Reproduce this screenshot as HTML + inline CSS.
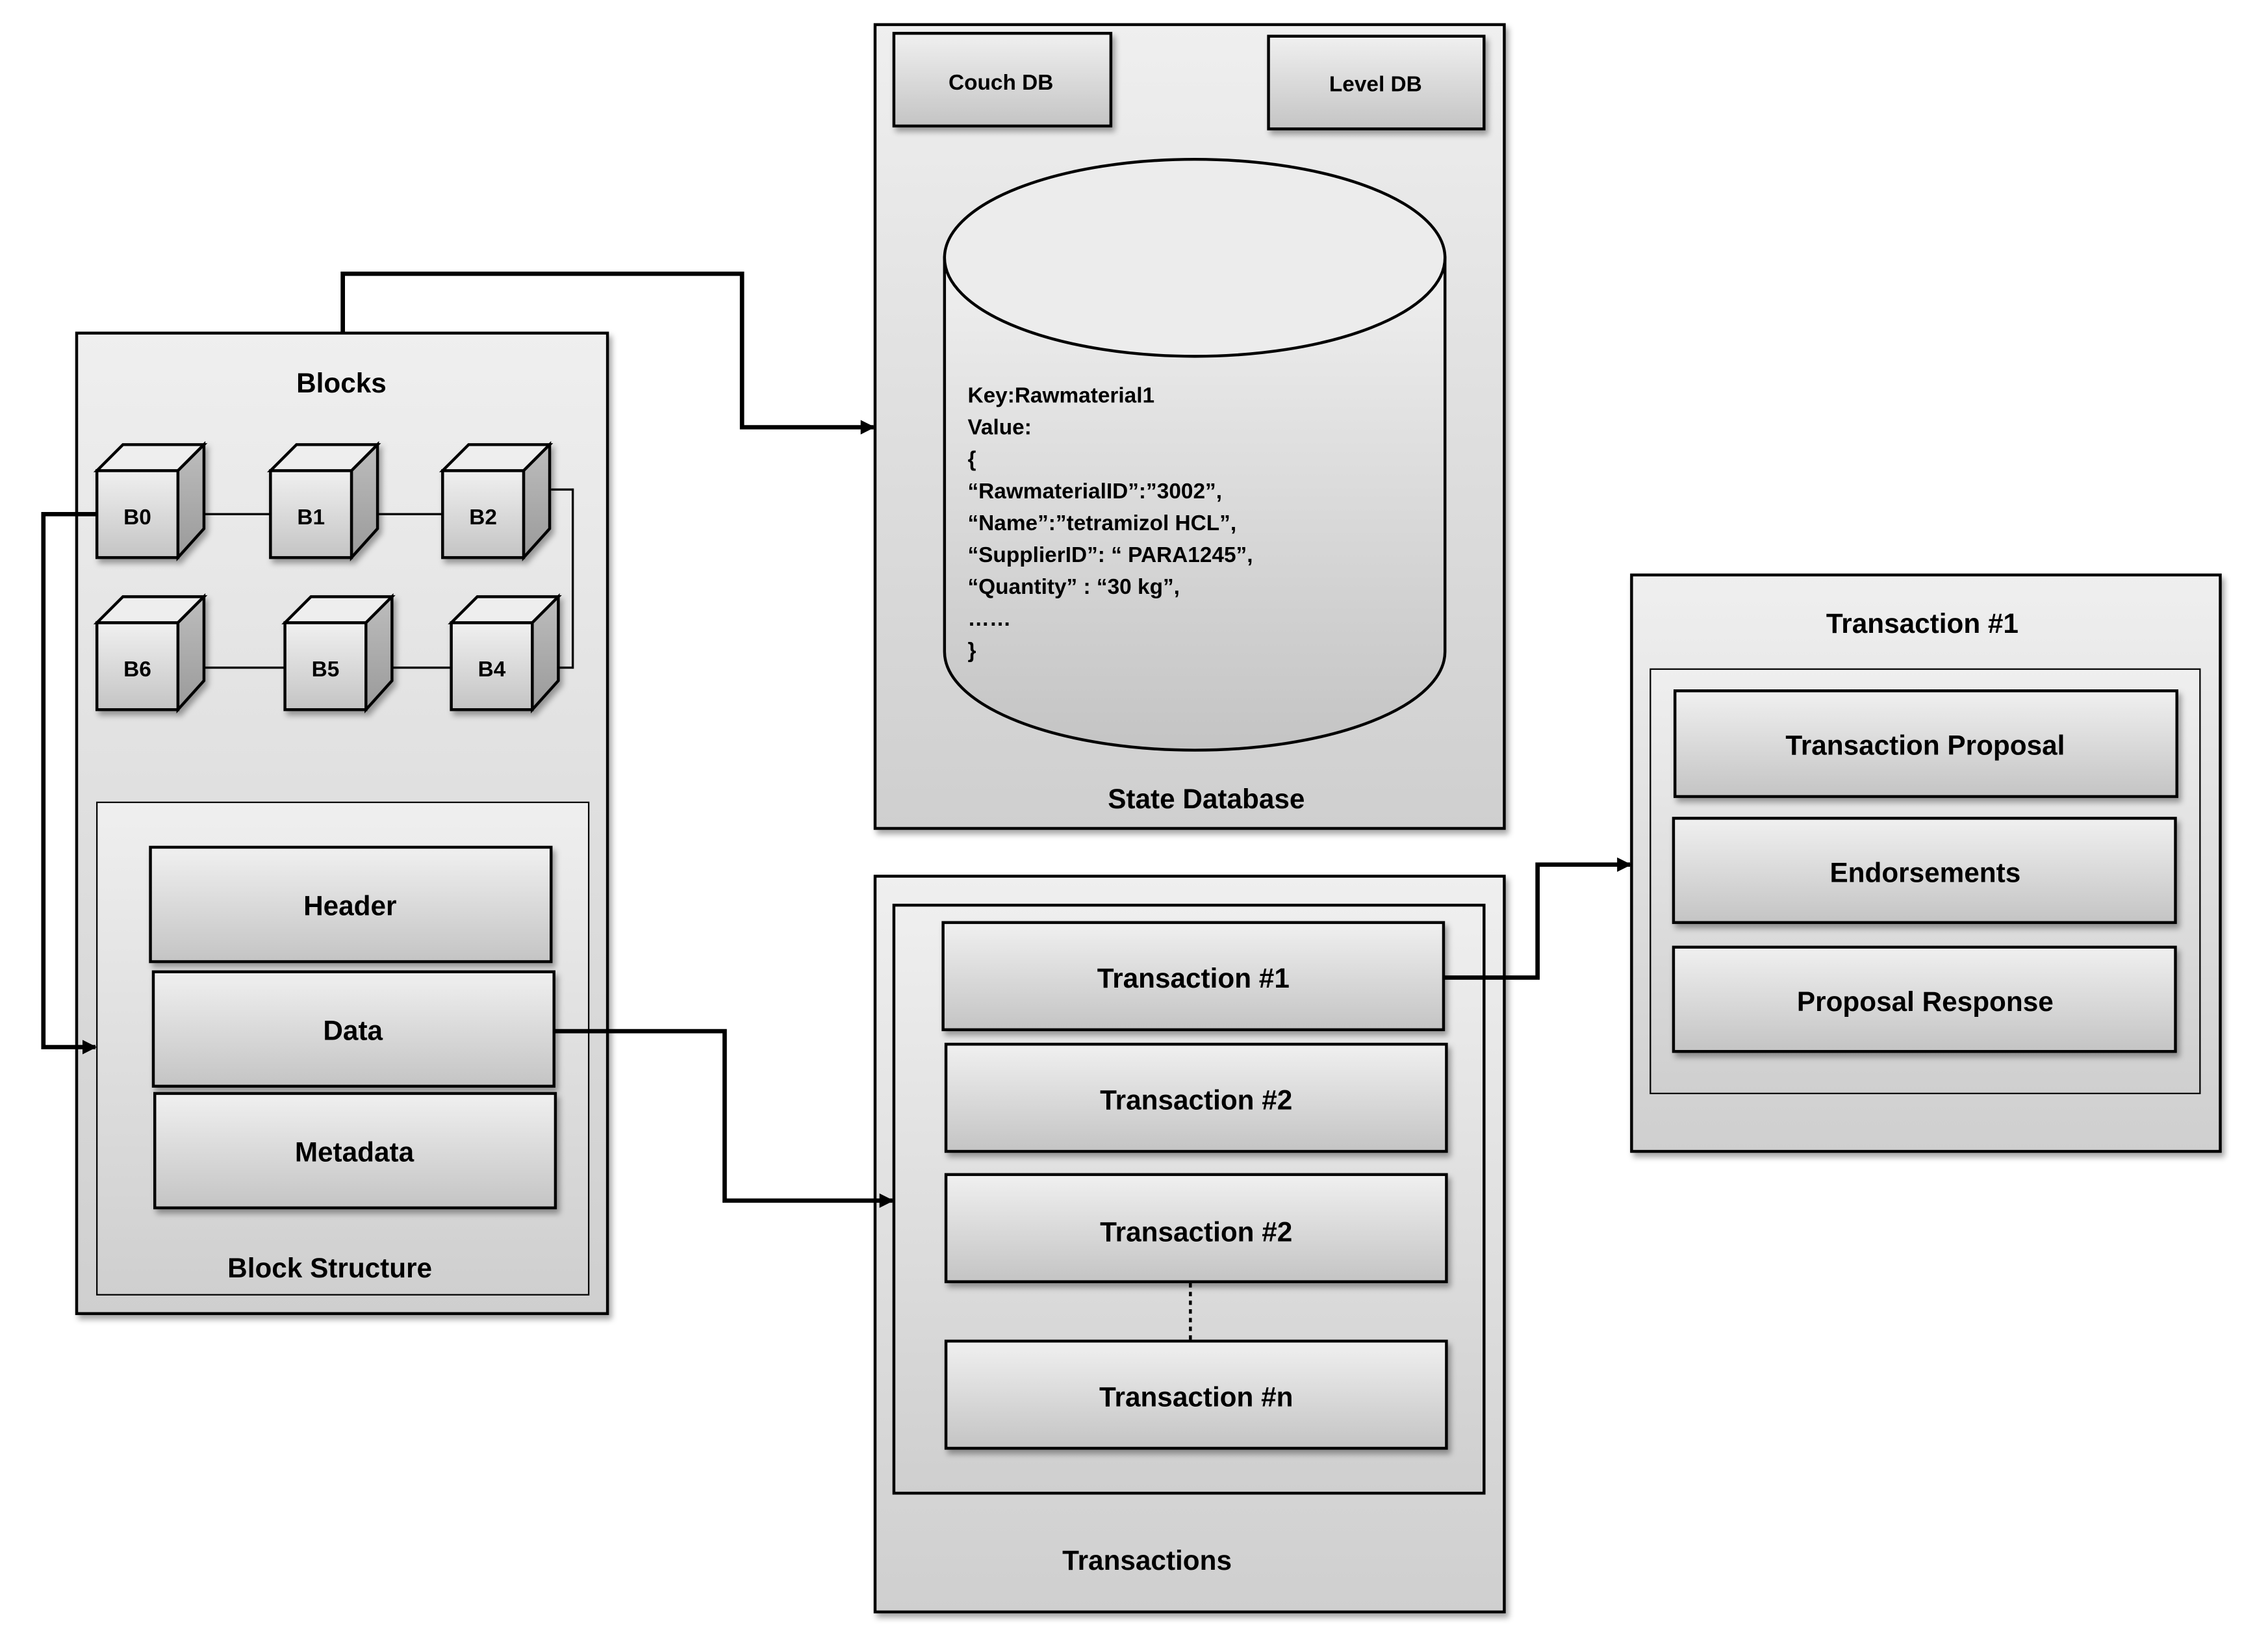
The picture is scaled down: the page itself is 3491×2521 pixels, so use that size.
<!DOCTYPE html>
<html><head><meta charset="utf-8"><style>html,body{margin:0;padding:0;background:#fff}svg{display:block}</style></head>
<body>
<svg xmlns="http://www.w3.org/2000/svg" width="3491" height="2521" viewBox="0 0 1568 1131" preserveAspectRatio="none" font-family="'Liberation Sans', sans-serif" font-weight="bold">
<defs>
<linearGradient id="g" x1="0" y1="0" x2="0" y2="1"><stop offset="0" stop-color="#f0f0f0"/><stop offset="1" stop-color="#c4c4c4"/></linearGradient>
<linearGradient id="gb" x1="0" y1="0" x2="0" y2="1"><stop offset="0" stop-color="#efefef"/><stop offset="1" stop-color="#cfcfcf"/></linearGradient>
<linearGradient id="gr" x1="0" y1="0" x2="0" y2="1"><stop offset="0" stop-color="#bdbdbd"/><stop offset="1" stop-color="#9a9a9a"/></linearGradient>
<filter id="sh" x="-10%" y="-10%" width="130%" height="130%"><feDropShadow dx="2" dy="3" stdDeviation="2" flood-color="#000" flood-opacity="0.35"/></filter>
<marker id="ar" markerWidth="10" markerHeight="10" refX="9" refY="5" orient="auto" markerUnits="userSpaceOnUse"><path d="M0,0 L10,5 L0,10 z" fill="#000"/></marker>
</defs>
<g stroke="#000" stroke-width="2">
<rect x="53" y="230" width="367" height="677" fill="url(#gb)" filter="url(#sh)"/>
<rect x="67" y="554" width="340" height="340" fill="url(#gb)" stroke-width="1"/>
<rect x="104" y="585" width="277" height="79" fill="url(#g)" filter="url(#sh)"/>
<rect x="106" y="671" width="277" height="79" fill="url(#g)" filter="url(#sh)"/>
<rect x="107" y="755" width="277" height="79" fill="url(#g)" filter="url(#sh)"/>
<rect x="605" y="17" width="435" height="555" fill="url(#gb)" filter="url(#sh)"/>
<rect x="618" y="23" width="150" height="64" fill="url(#g)" filter="url(#sh)"/>
<rect x="877" y="25" width="149" height="64" fill="url(#g)" filter="url(#sh)"/>
<path d="M653,178 L653,450 A173,68 0 0 0 999,450 L999,178 Z" fill="url(#g)"/>
<ellipse cx="826" cy="178" rx="173" ry="68" fill="#ececec"/>
<rect x="605" y="605" width="435" height="508" fill="url(#gb)" filter="url(#sh)"/>
<rect x="618" y="625" width="408" height="406" fill="url(#gb)"/>
<rect x="652" y="637" width="346" height="74" fill="url(#g)" filter="url(#sh)"/>
<rect x="654" y="721" width="346" height="74" fill="url(#g)" filter="url(#sh)"/>
<rect x="654" y="811" width="346" height="74" fill="url(#g)" filter="url(#sh)"/>
<rect x="654" y="926" width="346" height="74" fill="url(#g)" filter="url(#sh)"/>
<line x1="823" y1="886" x2="823" y2="925" stroke-dasharray="3,3"/>
<rect x="1128" y="397" width="407" height="398" fill="url(#gb)" filter="url(#sh)"/>
<rect x="1141" y="462" width="380" height="293" fill="url(#gb)" stroke-width="1"/>
<rect x="1158" y="477" width="347" height="73" fill="url(#g)" filter="url(#sh)"/>
<rect x="1157" y="565" width="347" height="72" fill="url(#g)" filter="url(#sh)"/>
<rect x="1157" y="654" width="347" height="72" fill="url(#g)" filter="url(#sh)"/>
<line x1="123" y1="355" x2="187" y2="355" stroke-width="1.5"/>
<line x1="243" y1="355" x2="306" y2="355" stroke-width="1.5"/>
<line x1="123" y1="461" x2="197" y2="461" stroke-width="1.5"/>
<line x1="253" y1="461" x2="312" y2="461" stroke-width="1.5"/>
<polyline points="381,338 396,338 396,461 368,461" fill="none" stroke-width="1.5"/>
<polyline points="67,355 30,355 30,723 66,723" fill="none" stroke-width="3" marker-end="url(#ar)"/>
<polyline points="237,230 237,189 513,189 513,295 604,295" fill="none" stroke-width="3" marker-end="url(#ar)"/>
<polyline points="383,712 501,712 501,829 617,829" fill="none" stroke-width="3" marker-end="url(#ar)"/>
<polyline points="998,675 1063,675 1063,597 1127,597" fill="none" stroke-width="3" marker-end="url(#ar)"/>
</g>
<g stroke="#000" stroke-width="2" stroke-linejoin="miter" filter="url(#sh)">
<g id="c0" transform="translate(67,325)">
<path d="M0,0 L18,-18 L74,-18 L56,0 Z" fill="#eeeeee"/>
<path d="M56,0 L74,-18 L74,40 L56,60 Z" fill="url(#gr)"/>
<rect x="0" y="0" width="56" height="60" fill="url(#g)"/>
</g>
<use href="#c0" x="120" y="0"/>
<use href="#c0" x="239" y="0"/>
<use href="#c0" x="0" y="105"/>
<use href="#c0" x="130" y="105"/>
<use href="#c0" x="245" y="105"/>
</g>
<g font-size="15" text-anchor="middle" fill="#000">
<text x="95" y="362">B0</text><text x="215" y="362">B1</text><text x="334" y="362">B2</text>
<text x="95" y="467">B6</text><text x="225" y="467">B5</text><text x="340" y="467">B4</text>
</g>
<g font-size="19" text-anchor="middle" fill="#000">
<text x="236" y="271">Blocks</text>
<text x="242" y="632">Header</text>
<text x="244" y="718">Data</text>
<text x="245" y="802">Metadata</text>
<text x="228" y="882">Block Structure</text>
<text x="834" y="558">State Database</text>
<text x="825" y="682">Transaction #1</text>
<text x="827" y="766">Transaction #2</text>
<text x="827" y="857">Transaction #2</text>
<text x="827" y="971">Transaction #n</text>
<text x="793" y="1084">Transactions</text>
<text x="1329" y="437">Transaction #1</text>
<text x="1331" y="521">Transaction Proposal</text>
<text x="1331" y="609">Endorsements</text>
<text x="1331" y="698">Proposal Response</text>
</g>
<g font-size="15" text-anchor="middle" fill="#000">
<text x="692" y="62">Couch DB</text>
<text x="951" y="63">Level DB</text>
</g>
<g font-size="15" fill="#000">
<text x="669" y="278">Key:Rawmaterial1</text>
<text x="669" y="300">Value:</text>
<text x="669" y="322">{</text>
<text x="669" y="344">“RawmaterialID”:”3002”,</text>
<text x="669" y="366"> “Name”:”tetramizol HCL”,</text>
<text x="669" y="388">“SupplierID”:  “ PARA1245”,</text>
<text x="669" y="410">“Quantity” : “30 kg”,</text>
<text x="669" y="432">……</text>
<text x="669" y="454">}</text>
</g>
</svg>
</body></html>
